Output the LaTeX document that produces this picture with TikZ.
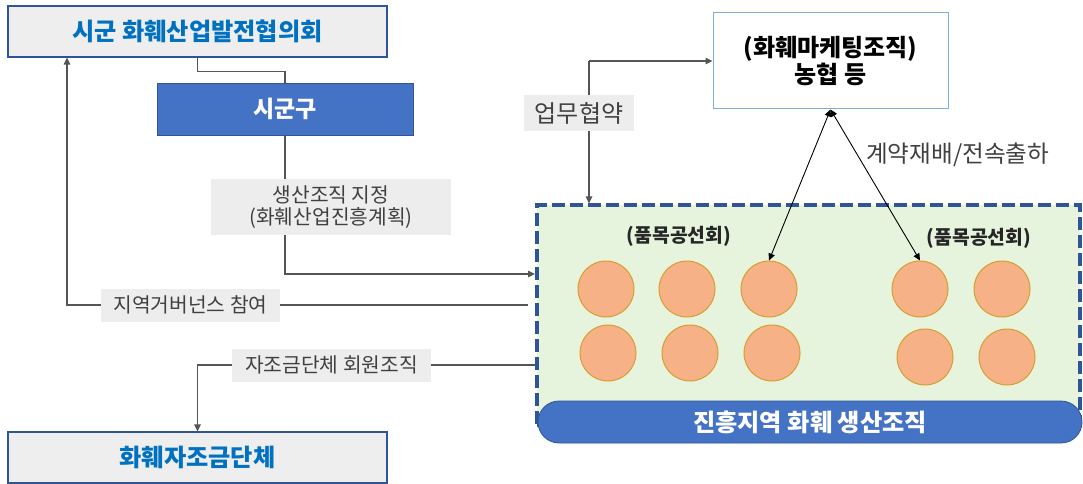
\documentclass[tikz,border=0pt]{standalone}
\usepackage{fontspec}
\setmainfont{Noto Sans CJK KR}
\usetikzlibrary{arrows.meta,calc}
\definecolor{boxgray}{RGB}{238,238,238}
\definecolor{lgray}{RGB}{237,237,237}
\definecolor{bblue}{RGB}{47,85,151}
\definecolor{tblue}{RGB}{0,112,192}
\definecolor{mblue}{RGB}{68,114,196}
\definecolor{mktborder}{RGB}{126,172,222}
\definecolor{zonefill}{RGB}{230,244,222}
\definecolor{cfill}{RGB}{246,178,134}
\definecolor{cborder}{RGB}{214,158,46}
\definecolor{lgrey}{RGB}{85,85,85}
\definecolor{tgray}{RGB}{64,64,64}
\begin{document}
\begin{tikzpicture}[x=1pt,y=-1pt,
  topbox/.style={draw=bblue, line width=1.2pt, fill=boxgray, minimum width=379pt, minimum height=51pt, inner sep=0pt, text=tblue, font=\fontsize{24.2}{28}\selectfont\bfseries},
  sggbox/.style={draw=bblue, line width=0.8pt, fill=mblue, minimum width=256pt, minimum height=52pt, inner sep=0pt, text=white, font=\fontsize{23}{27}\selectfont\bfseries},
  lbl/.style={fill=lgray, inner sep=0pt, text=tgray, align=center, font=\fontsize{20.3}{22}\selectfont},
  biglbl/.style={fill=lgray, inner sep=0pt, text=tgray, font=\fontsize{24}{27}\selectfont},
  mktbox/.style={draw=mktborder, line width=1pt, fill=white, minimum width=235pt, minimum height=96pt, inner sep=0pt, align=center, font=\fontsize{24}{23.5}\selectfont\bfseries},
  zonebox/.style={draw=bblue, line width=3.2pt, dash pattern=on 13pt off 5pt, fill=zonefill, minimum width=543pt, minimum height=220pt, inner sep=0pt},
  barbox/.style={draw=bblue, line width=0.8pt, fill=mblue, rounded corners=21pt, minimum width=544pt, minimum height=42pt, inner sep=0pt, text=white, font=\fontsize{24.2}{28}\selectfont\bfseries},
  circ/.style={circle, draw=cborder, line width=1pt, fill=cfill, minimum size=56pt, inner sep=0pt},
  grp/.style={text=black!85, font=\fontsize{19.3}{22}\selectfont\bfseries, inner sep=0pt},
  conn/.style={draw=lgrey, line width=1.2pt},
  arr/.style={-{Triangle[length=7pt,width=6.5pt]}},
  darr/.style={{Triangle[length=7pt,width=6.5pt]}-{Triangle[length=7pt,width=6.5pt]}, draw=black, line width=0.9pt}
]
\useasboundingbox (0,0) rectangle (1083,484);

% left column
\node[topbox] (council) at (197.5,31.5) {시군 화훼산업발전협의회};
\node[sggbox] (sgg) at (285,109) {시군구};
\node[lbl, minimum width=240pt, minimum height=56pt] (desig) at (331,207) {생산조직 지정\\(화훼산업진흥계획)};
\node[lbl, minimum width=179pt, minimum height=33pt] (gov) at (190.5,305) {지역거버넌스 참여};
\node[lbl, minimum width=199pt, minimum height=33pt] (member) at (331.5,365) {자조금단체 회원조직};
\node[topbox] (fund) at (197.5,457.5) {화훼자조금단체};

% right side
\node[mktbox] (mkt) at (830.5,61) {(화훼마케팅조직)\\농협 등};
\node[biglbl, minimum width=110pt, minimum height=36pt] (agree) at (579,113) {업무협약};
\node[anchor=west, text=tgray, inner sep=0pt, font=\fontsize{23.6}{27}\selectfont] (contract) at (866,155) {계약재배/전속출하};

\node[zonebox] (zone) at (808.5,315) {};
\node[barbox] (bar) at (810,422) {진흥지역 화훼 생산조직};
\node[grp] (g1) at (679,236) {(품목공선회)};
\node[grp] (g2) at (979,238) {(품목공선회)};

\node[circ] (c1) at (606,289) {};
\node[circ] (c2) at (687,289) {};
\node[circ] (c3) at (769,289) {};
\node[circ] (c4) at (920,289) {};
\node[circ] (c5) at (1002,289) {};
\node[circ] (c6) at (608,353) {};
\node[circ] (c7) at (690,353) {};
\node[circ] (c8) at (772,353) {};
\node[circ] (c9) at (925,357) {};
\node[circ] (c10) at (1007,357) {};

% coordinates for free ends
\coordinate (zin) at (535,274);
\coordinate (govend) at (528,305);
\coordinate (gcorner) at (67,305);
\coordinate (jin) at (535,365);
\coordinate (ucorner) at (589,61);

% connectors
\draw[conn] (council.south) -- ++(0,14) -| (sgg.north);
\draw[conn] (sgg.south) -- (sgg.south |- desig.north);
\draw[conn, arr] (sgg.south |- desig.south) |- (zin);
\draw[conn] (govend) -- (gov.east);
\draw[conn, arr] (gov.west) -- (gcorner) -- (gcorner |- council.south);
\draw[conn] (jin) -- (member.east);
\draw[conn, arr] (member.west) -| (fund.north);
\draw[conn, arr] (ucorner) -- (mkt.west);
\draw[conn] (ucorner) -- (ucorner |- agree.north);
\draw[conn, arr] (ucorner |- agree.south) -- (ucorner |- zone.north);
\draw[darr] (mkt.south) -- (c3.north);
\draw[darr] (mkt.south) -- (c4.north);
\end{tikzpicture}
\end{document}
